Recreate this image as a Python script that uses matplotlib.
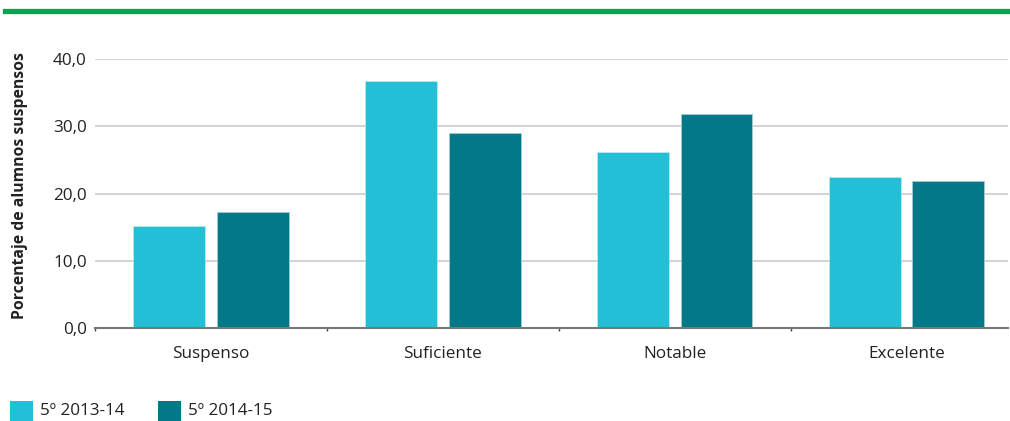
import matplotlib.pyplot as plt
import numpy as np
from matplotlib.patches import Rectangle
from matplotlib.lines import Line2D

# datos
categorias = ['Suspenso', 'Suficiente', 'Notable', 'Excelente']
curso_2013 = [15.2, 36.8, 26.1, 22.4]
curso_2014 = [17.3, 29.0, 31.8, 21.8]
etiquetas = ['5º 2013-14', '5º 2014-15']

color_claro = '#23BFD6'
color_oscuro = '#027889'

plt.rcParams['font.family'] = ['Open Sans', 'DejaVu Sans']

fig = plt.figure(figsize=(10.1, 4.21), dpi=100)
ax = fig.add_axes([95 / 1010, 93 / 421, 913 / 1010, 269 / 421])

x = np.arange(len(categorias))
ancho = 0.31
ax.bar(x - 0.18, curso_2013, ancho, color=color_claro, edgecolor='#b8e8f0', linewidth=0.6, zorder=3)
ax.bar(x + 0.18, curso_2014, ancho, color=color_oscuro, edgecolor='#9fcdd4', linewidth=0.6, zorder=3)

ax.set_xlim(-0.5, 3.437)
ax.set_ylim(0, 40)
ax.set_yticks([0, 10, 20, 30, 40])
ax.set_yticklabels(['0,0', '10,0', '20,0', '30,0', '40,0'], fontsize=12.3, color='#222222')
ax.tick_params(axis='y', length=0, pad=6)

ax.set_xticks(x)
ax.set_xticklabels(categorias, fontsize=12.3, color='#222222')
ax.tick_params(axis='x', length=0, pad=13)
# marcas entre categorias
ax.set_xticks([-0.5, 0.5, 1.5, 2.5], minor=True)
ax.tick_params(axis='x', which='minor', length=2.5, width=1, color='#444444', direction='out')

ax.yaxis.grid(True, color='#cccccc', linewidth=1.2, zorder=0)
for s in ['top', 'right', 'left']:
    ax.spines[s].set_visible(False)
ax.spines['bottom'].set_color('#777777')
ax.spines['bottom'].set_linewidth(1.5)
ax.spines['bottom'].set_zorder(4)

fig.text(20 / 1010, 1 - 186 / 421, 'Porcentaje de alumnos suspensos', rotation=90,
         ha='center', va='center', fontsize=11.3, fontweight='bold', color='#222222')

# linea verde superior
fig.add_artist(Line2D([5 / 1010, 1.0], [1 - 11 / 421, 1 - 11 / 421], color='#00A651', linewidth=3.8))

# leyenda
for i, (lab, col) in enumerate(zip(etiquetas, [color_claro, color_oscuro])):
    x0 = 10 + i * 148
    fig.add_artist(Rectangle((x0 / 1010, 0), 23 / 1010, 20 / 421,
                             facecolor=col, edgecolor='none', transform=fig.transFigure))
    fig.text((x0 + 30) / 1010, 1 - 411 / 421, lab, ha='left', va='center', fontsize=12.3, color='#222222')

fig.savefig('out.png', dpi=100)
